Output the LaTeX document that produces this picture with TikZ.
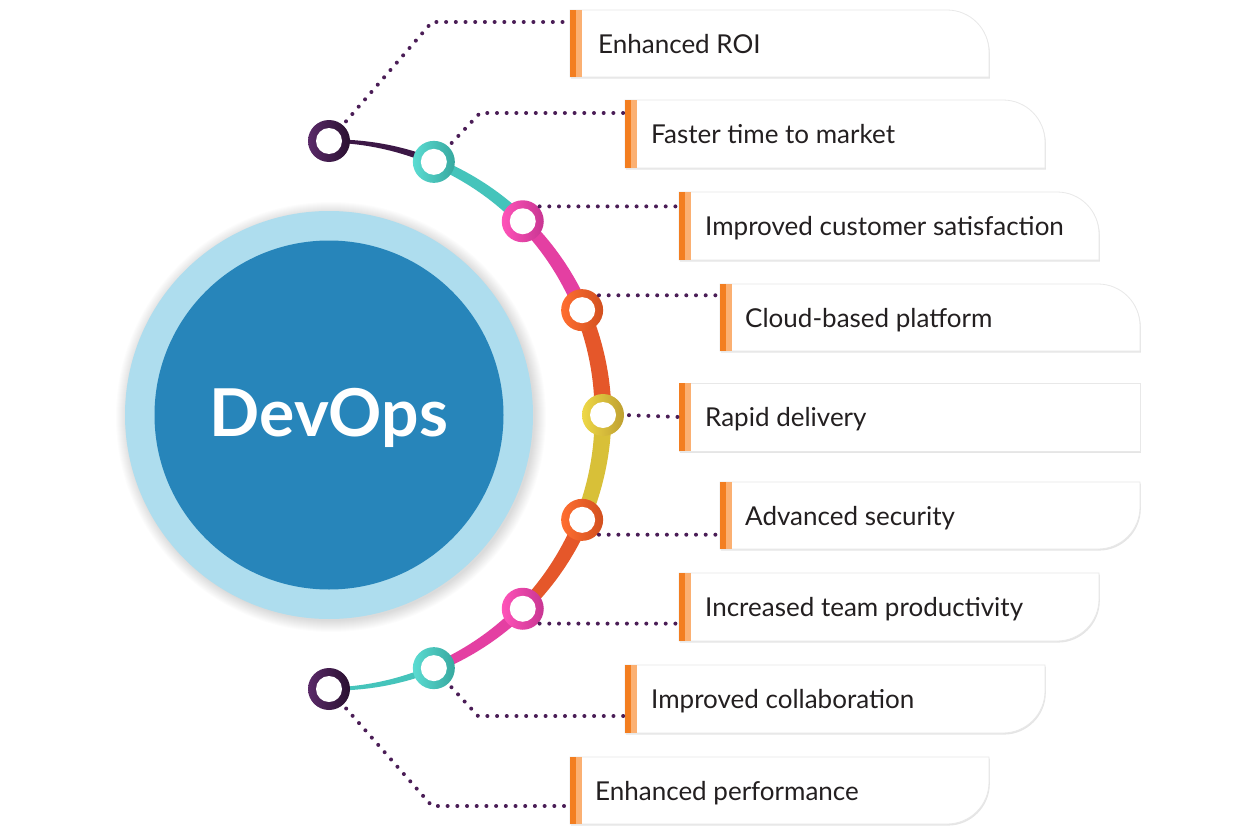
\documentclass[tikz,border=0pt]{standalone}
\usepackage{fontspec}
\setmainfont{Lato}
\usetikzlibrary{calc,shadows}
\definecolor{lblue}{HTML}{AEDDEE}
\definecolor{dblue}{HTML}{2785BA}
\definecolor{dotc}{HTML}{4A1D56}
\definecolor{txt}{HTML}{231F20}
\definecolor{oA}{HTML}{F37E20}
\definecolor{oB}{HTML}{FBB072}
\definecolor{edge}{HTML}{E8E8E8}
\definecolor{cDarkA}{HTML}{5A2A69}
\definecolor{cDarkB}{HTML}{2A1030}
\definecolor{cDark}{HTML}{3C1846}
\definecolor{cTealA}{HTML}{5BDCD2}
\definecolor{cTealB}{HTML}{37A89F}
\definecolor{cTeal}{HTML}{45C4BB}
\definecolor{cPinkA}{HTML}{FF53B9}
\definecolor{cPinkB}{HTML}{C83592}
\definecolor{cPink}{HTML}{E43FA2}
\definecolor{cOrA}{HTML}{FF6E31}
\definecolor{cOrB}{HTML}{D2501F}
\definecolor{cOr}{HTML}{E5572A}
\definecolor{cYeA}{HTML}{EED846}
\definecolor{cYeB}{HTML}{BFA031}
\definecolor{cYe}{HTML}{D8C038}
\tikzset{
  dots/.style={draw=dotc, line width=4pt, line cap=round, dash pattern=on 0pt off 9.7pt},
  ring/.style 2 args={circle, minimum size=42pt, inner sep=0pt, outer sep=0pt,
    left color=#1, right color=#2,
    path picture={\fill[white] (path picture bounding box.center) circle (13pt);}},
  lbl/.style={anchor=base west, font=\fontsize{26}{30}\selectfont, text=txt, inner sep=0pt},
  boxsh/.style={fill=white, draw=edge, line width=0.8pt,
    drop shadow={shadow xshift=0.8pt, shadow yshift=-1.6pt, opacity=0.10, fill=black}},
  boxnode/.style={inner sep=0pt, outer sep=0pt, anchor=north west}
}
% tapered arc segment: from angle #1 to #2, widths #3 to #4, colour #5
\newcommand\arcseg[5]{%
  \fill[#5] plot[domain=#1:#2, samples=30]
    ({329+(274+0.5*(#3+(#4-#3)*(\x-#1)/(#2-#1)))*cos(\x)},
     {415-(274+0.5*(#3+(#4-#3)*(\x-#1)/(#2-#1)))*sin(\x)})
    -- plot[domain=#2:#1, samples=30]
    ({329+(274-0.5*(#3+(#4-#3)*(\x-#1)/(#2-#1)))*cos(\x)},
     {415-(274-0.5*(#3+(#4-#3)*(\x-#1)/(#2-#1)))*sin(\x)}) -- cycle;}
\newcommand\accentbar[3]{%
  \fill[oA] (#1,#2) rectangle ({#1+6},#3);
  \fill[oB] ({#1+6},#2) rectangle ({#1+12},#3);}
\newcommand\boxTop[4]{%
  \path[boxsh] (#1,#2) -- ({#3-42},#2) .. controls ({#3-18.8},#2) and (#3,{#2+18.8}) .. (#3,{#2+42}) -- (#3,#4) -- (#1,#4) -- cycle;
  \accentbar{#1}{#2}{#4}}
\newcommand\boxBot[4]{%
  \path[boxsh] (#1,#2) -- (#3,#2) -- (#3,{#4-42}) .. controls (#3,{#4-18.8}) and ({#3-18.8},#4) .. ({#3-42},#4) -- (#1,#4) -- cycle;
  \accentbar{#1}{#2}{#4}}
\newcommand\boxSq[4]{%
  \path[boxsh] (#1,#2) rectangle (#3,#4);
  \accentbar{#1}{#2}{#4}}
\begin{document}
\begin{tikzpicture}[x=1pt, y=-1pt]
\useasboundingbox (0,0) rectangle (1251,835);
\fill[white] (0,0) rectangle (1251,835);

% central circle with soft shadow
\foreach \k in {1,...,12} \fill[black, opacity=0.011] (331,417) circle ({203+\k});
\node[circle, fill=lblue, minimum size=408pt, inner sep=0pt] (halo) at (329,415) {};
\node[circle, fill=dblue, minimum size=349pt, inner sep=0pt] (core) at (329,415) {};
\node[anchor=base, text=white, inner sep=0pt, font=\bfseries\fontsize{66}{72}\selectfont] (title) at (329,436) {DevOps};

% arc segments
\arcseg{90}{67.5}{3}{7}{cDark}
\arcseg{67.5}{45}{9}{12}{cTeal}
\arcseg{45}{22.5}{12}{15}{cPink}
\arcseg{22.5}{0}{15}{17}{cOr}
\arcseg{0}{-22.5}{17}{15}{cYe}
\arcseg{-22.5}{-45}{15}{12}{cOr}
\arcseg{-45}{-67.5}{12}{9}{cPink}
\arcseg{-67.5}{-90}{7}{3}{cTeal}

% ring nodes
\node[ring={cDarkA}{cDarkB}] (n1) at ({329+274*cos(90)},{415-274*sin(90)}) {};
\node[ring={cTealA}{cTealB}] (n2) at ({329+274*cos(67.5)},{415-274*sin(67.5)}) {};
\node[ring={cPinkA}{cPinkB}] (n3) at ({329+274*cos(45)},{415-274*sin(45)}) {};
\node[ring={cOrA}{cOrB}] (n4) at ({329+274*cos(22.5)},{415-274*sin(22.5)}) {};
\node[ring={cYeA}{cYeB}] (n5) at ({329+274*cos(0)},{415-274*sin(0)}) {};
\node[ring={cOrA}{cOrB}] (n6) at ({329+274*cos(-22.5)},{415-274*sin(-22.5)}) {};
\node[ring={cPinkA}{cPinkB}] (n7) at ({329+274*cos(-45)},{415-274*sin(-45)}) {};
\node[ring={cTealA}{cTealB}] (n8) at ({329+274*cos(-67.5)},{415-274*sin(-67.5)}) {};
\node[ring={cDarkA}{cDarkB}] (n9) at ({329+274*cos(-90)},{415-274*sin(-90)}) {};

% boxes
\boxTop{570}{10}{989}{77}
\boxTop{625}{100}{1045}{168}
\boxTop{679}{192}{1099}{260}
\boxTop{720}{284}{1140}{351}
\boxSq{679}{383}{1140}{451}
\boxBot{720}{482}{1140}{549}
\boxBot{679}{573}{1099}{641}
\boxBot{625}{665}{1045}{733}
\boxBot{570}{757}{989}{824}

\node[boxnode, minimum width=419pt, minimum height=67pt] (b1) at (570,10) {};
\node[boxnode, minimum width=420pt, minimum height=68pt] (b2) at (625,100) {};
\node[boxnode, minimum width=420pt, minimum height=68pt] (b3) at (679,192) {};
\node[boxnode, minimum width=420pt, minimum height=67pt] (b4) at (720,284) {};
\node[boxnode, minimum width=461pt, minimum height=68pt] (b5) at (679,383) {};
\node[boxnode, minimum width=420pt, minimum height=67pt] (b6) at (720,482) {};
\node[boxnode, minimum width=420pt, minimum height=68pt] (b7) at (679,573) {};
\node[boxnode, minimum width=420pt, minimum height=68pt] (b8) at (625,665) {};
\node[boxnode, minimum width=419pt, minimum height=67pt] (b9) at (570,757) {};

% labels
\node[lbl] (t1) at (598,53) {Enhanced ROI};
\node[lbl] (t2) at (651,143.5) {Faster time to market};
\node[lbl] (t3) at (705,235.5) {Improved customer satisfaction};
\node[lbl] (t4) at (745,327) {Cloud-based platform};
\node[lbl] (t5) at (705,426.5) {Rapid delivery};
\node[lbl] (t6) at (745,525) {Advanced security};
\node[lbl] (t7) at (705,616.5) {Increased team productivity};
\node[lbl] (t8) at (651,708.5) {Improved collaboration};
\node[lbl] (t9) at (595,800) {Enhanced performance};

% connectors
\coordinate (c1) at (432,22);
\coordinate (c2) at (480,113);
\coordinate (c8) at (478,716);
\coordinate (c9) at (432,806);
\draw[dots, shorten <=5pt] (n1) -- (c1) -- (b1.west |- c1);
\draw[dots, shorten <=5pt] (n2) -- (c2) -- (b2.west |- c2);
\draw[dots, shorten <=2pt] (n3.north east) -- (b3.west |- n3.north east);
\draw[dots, shorten <=2pt] (n4.north east) -- (b4.west |- n4.north east);
\draw[dots, shorten <=5pt] (n5.east) -- (b5.west);
\draw[dots, shorten <=2pt] (n6.south east) -- (b6.west |- n6.south east);
\draw[dots, shorten <=2pt] (n7.south east) -- (b7.west |- n7.south east);
\draw[dots, shorten <=5pt] (n8) -- (c8) -- (b8.west |- c8);
\draw[dots, shorten <=5pt] (n9) -- (c9) -- (b9.west |- c9);
\end{tikzpicture}
\end{document}
